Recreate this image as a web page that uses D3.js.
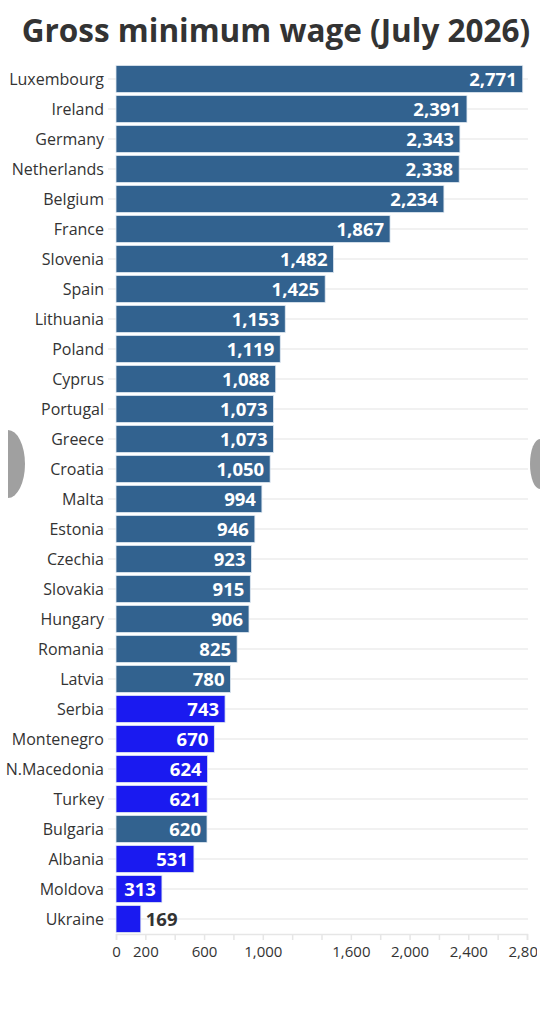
<!DOCTYPE html>
<html>
<head>
<meta charset="utf-8">
<script src="https://cdn.jsdelivr.net/npm/d3@7"></script>
<style>
  html, body { margin: 0; padding: 0; background: #fff; }
  svg { display: block; font-family: "Open Sans", sans-serif; }
</style>
</head>
<body>
<div id="chart"></div>
<script>
// countries, top to bottom
var countries = ["Luxembourg", "Ireland", "Germany", "Netherlands", "Belgium", "France",
  "Slovenia", "Spain", "Lithuania", "Poland", "Cyprus", "Portugal", "Greece", "Croatia",
  "Malta", "Estonia", "Czechia", "Slovakia", "Hungary", "Romania", "Latvia", "Serbia",
  "Montenegro", "N.Macedonia", "Turkey", "Bulgaria", "Albania", "Moldova", "Ukraine"];

// gross minimum wage, EUR per month
var wages = [2771, 2391, 2343, 2338, 2234, 1867, 1482, 1425, 1153, 1119, 1088, 1073, 1073,
  1050, 994, 946, 923, 915, 906, 825, 780, 743, 670, 624, 621, 620, 531, 313, 169];

// countries drawn in the bright blue (non-EU)
var nonEU = ["Serbia", "Montenegro", "N.Macedonia", "Turkey", "Albania", "Moldova", "Ukraine"];

// axis: a tick every 200, only some of them labelled
var tickValues = d3.range(0, 2801, 200);
var tickLabels = [0, 200, 600, 1000, 1600, 2000, 2400, 2800];

var width = 547, height = 1024;

var data = countries.map(function(c, i) { return {name: c, value: wages[i]}; });

var svg = d3.select("#chart").append("svg")
  .attr("width", width)
  .attr("height", height);

// title
svg.append("text")
  .attr("x", 276)
  .attr("y", 42)
  .attr("text-anchor", "middle")
  .style("font-size", "31.5px")
  .style("font-weight", "700")
  .style("fill", "#333")
  .text("Gross minimum wage (July 2026)");

// chart is clipped a bit before the right edge (last tick label gets cut)
svg.append("clipPath").attr("id", "clip")
  .append("rect").attr("x", 0).attr("y", 0).attr("width", 537).attr("height", height);

var g = svg.append("g").attr("clip-path", "url(#clip)");

var x = d3.scaleLinear().domain([0, 2800]).range([116, 527]);
var y = d3.scaleBand().domain(countries).range([64, 934]).paddingInner(0.1).paddingOuter(0.05);

// row gridlines
g.append("g").selectAll("line")
  .data(data)
  .enter().append("line")
  .attr("x1", 108)
  .attr("x2", 528)
  .attr("y1", function(d) { return y(d.name) + y.bandwidth() / 2; })
  .attr("y2", function(d) { return y(d.name) + y.bandwidth() / 2; })
  .style("stroke", "#ececec")
  .style("stroke-width", 1.5);

// category labels
g.append("g").selectAll("text")
  .data(data)
  .enter().append("text")
  .attr("x", 104)
  .attr("y", function(d) { return y(d.name) + y.bandwidth() / 2; })
  .attr("dy", ".35em")
  .attr("text-anchor", "end")
  .style("font-size", "16px")
  .style("fill", "#333")
  .text(function(d) { return d.name; });

// bars
g.append("g").selectAll("rect")
  .data(data)
  .enter().append("rect")
  .attr("x", x(0))
  .attr("y", function(d) { return y(d.name); })
  .attr("width", function(d) { return x(d.value) - x(0); })
  .attr("height", y.bandwidth())
  .style("fill", function(d) { return nonEU.indexOf(d.name) >= 0 ? "#1a1af0" : "#32628f"; })
  .style("stroke", "#dfe8f1")
  .style("stroke-width", 0.8);

// value labels: inside the bar, or outside if the bar is too short
g.append("g").selectAll("text")
  .data(data)
  .enter().append("text")
  .attr("x", function(d) { return d.value < 250 ? x(d.value) + 5 : x(d.value) - 6; })
  .attr("y", function(d) { return y(d.name) + y.bandwidth() / 2; })
  .attr("dy", ".36em")
  .attr("text-anchor", function(d) { return d.value < 250 ? "start" : "end"; })
  .style("font-size", "18.5px")
  .style("font-weight", "700")
  .style("fill", function(d) { return d.value < 250 ? "#333" : "#fff"; })
  .text(function(d) { return d3.format(",")(d.value); });

// x axis
var axis = g.append("g")
  .attr("transform", "translate(0,934)")
  .attr("font-size", null)
  .call(d3.axisBottom(x)
    .tickValues(tickValues)
    .tickSize(6)
    .tickPadding(6)
    .tickFormat(function(d) { return tickLabels.indexOf(d) >= 0 ? d3.format(",")(d) : ""; }));

axis.select(".domain").style("stroke", "#e6e6e6").style("stroke-width", 1.5);
axis.selectAll(".tick line").style("stroke", "#e6e6e6").style("stroke-width", 1.5);
axis.selectAll(".tick text")
  .style("font-family", "'Open Sans', sans-serif")
  .style("font-size", "15px")
  .style("fill", "#333");

// grey carousel arrows peeking in at the sides
svg.append("ellipse")
  .attr("cx", 8).attr("cy", 464).attr("rx", 17).attr("ry", 34)
  .style("fill", "#a0a0a0");
svg.append("rect")
  .attr("x", 0).attr("y", 428).attr("width", 8).attr("height", 72)
  .style("fill", "#fff");
svg.append("ellipse")
  .attr("cx", 540).attr("cy", 464).attr("rx", 10).attr("ry", 25)
  .style("fill", "#a0a0a0");
svg.append("rect")
  .attr("x", 540).attr("y", 436).attr("width", 7).attr("height", 56)
  .style("fill", "#fff");
</script>
</body>
</html>
